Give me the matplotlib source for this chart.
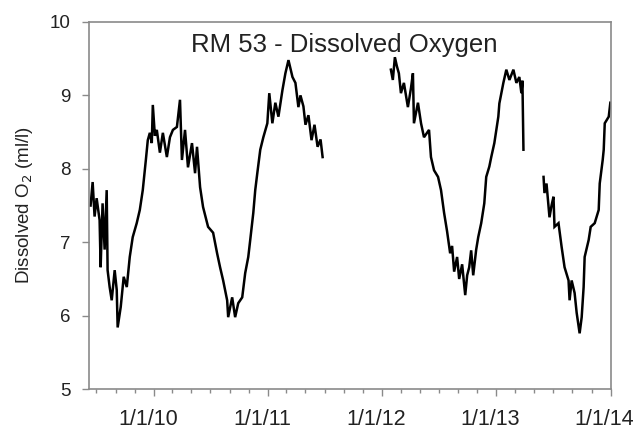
import matplotlib
matplotlib.use("Agg")
import matplotlib.pyplot as plt
import matplotlib.dates as mdates
import matplotlib.transforms as mtransforms
from matplotlib.ticker import FuncFormatter, MultipleLocator
import numpy as np
import pandas as pd

# Dissolved oxygen record at RM 53, three deployments (time as decimal year)
dep1_time = [2009.446, 2009.464, 2009.481, 2009.499, 2009.525, 2009.534, 2009.551,
             2009.569, 2009.587, 2009.595, 2009.613, 2009.631, 2009.657, 2009.675,
             2009.683, 2009.710, 2009.736, 2009.763, 2009.789, 2009.815, 2009.850,
             2009.877, 2009.903, 2009.930, 2009.947, 2009.965, 2009.982, 2009.991,
             2010.009, 2010.026, 2010.053, 2010.079, 2010.114, 2010.141, 2010.167,
             2010.202, 2010.229, 2010.246, 2010.273, 2010.299, 2010.334, 2010.361,
             2010.378, 2010.405, 2010.431, 2010.475, 2010.519, 2010.554, 2010.580,
             2010.607, 2010.642, 2010.651, 2010.686, 2010.712, 2010.739, 2010.774,
             2010.800, 2010.827, 2010.844, 2010.871, 2010.888, 2010.906, 2010.932,
             2010.959, 2010.994, 2011.011, 2011.038, 2011.064, 2011.091, 2011.126,
             2011.152, 2011.179, 2011.214, 2011.240, 2011.266, 2011.284, 2011.310,
             2011.328, 2011.354, 2011.381, 2011.407, 2011.434, 2011.460, 2011.478]
dep1_do = [7.50, 7.82, 7.35, 7.60, 7.30, 6.66, 7.53,
           6.90, 7.71, 6.62, 6.39, 6.21, 6.62, 6.35,
           5.84, 6.12, 6.53, 6.39, 6.80, 7.07, 7.26,
           7.44, 7.71, 8.12, 8.39, 8.49, 8.35, 8.87,
           8.45, 8.53, 8.22, 8.49, 8.16, 8.43, 8.53,
           8.57, 8.94, 8.12, 8.53, 8.02, 8.35, 7.94,
           8.30, 7.75, 7.48, 7.21, 7.13, 6.85, 6.66,
           6.48, 6.21, 5.98, 6.25, 5.98, 6.17, 6.25,
           6.58, 6.80, 7.03, 7.40, 7.71, 7.94, 8.26,
           8.43, 8.62, 9.03, 8.62, 8.90, 8.71, 9.07,
           9.30, 9.48, 9.25, 9.17, 8.84, 9.00, 8.85,
           8.60, 8.73, 8.39, 8.60, 8.30, 8.40, 8.16]

dep2_time = [2012.076, 2012.093, 2012.111, 2012.128, 2012.146, 2012.164, 2012.190,
             2012.225, 2012.252, 2012.269, 2012.278, 2012.313, 2012.340, 2012.366,
             2012.410, 2012.427, 2012.454, 2012.489, 2012.515, 2012.542, 2012.568,
             2012.595, 2012.612, 2012.630, 2012.656, 2012.674, 2012.700, 2012.727,
             2012.744, 2012.762, 2012.779, 2012.797, 2012.823, 2012.841, 2012.867,
             2012.894, 2012.911, 2012.938, 2012.955, 2012.982, 2013.017, 2013.026,
             2013.061, 2013.087, 2013.114, 2013.149, 2013.175, 2013.201, 2013.219,
             2013.228, 2013.237]
dep2_do = [9.35, 9.21, 9.52, 9.40, 9.30, 9.03, 9.17,
           8.84, 9.10, 9.30, 8.62, 8.90, 8.62, 8.43,
           8.53, 8.16, 7.98, 7.89, 7.71, 7.40, 7.15,
           6.85, 6.95, 6.60, 6.80, 6.50, 6.70, 6.28,
           6.55, 6.66, 6.89, 6.55, 6.90, 7.07, 7.26,
           7.53, 7.89, 8.03, 8.16, 8.35, 8.71, 8.89,
           9.17, 9.35, 9.21, 9.35, 9.17, 9.25, 9.03,
           9.20, 8.26]

dep3_time = [2013.413, 2013.421, 2013.439, 2013.465, 2013.483, 2013.500, 2013.509,
             2013.544, 2013.571, 2013.597, 2013.632, 2013.641, 2013.659, 2013.685,
             2013.703, 2013.729, 2013.747, 2013.764, 2013.773, 2013.808, 2013.826,
             2013.861, 2013.896, 2013.905, 2013.931, 2013.940, 2013.949, 2013.984,
             2013.998]
dep3_do = [7.89, 7.67, 7.80, 7.34, 7.50, 7.62, 7.21,
           7.26, 6.94, 6.66, 6.48, 6.21, 6.48, 6.31,
           6.04, 5.76, 5.98, 6.39, 6.80, 7.03, 7.21,
           7.26, 7.44, 7.80, 8.12, 8.26, 8.62, 8.71,
           8.90]


def to_dates(decimal_years):
    t = np.asarray(decimal_years)
    base = pd.Timestamp("2010-01-01")
    return base + pd.to_timedelta((t - 2010.0) * 365.25, unit="D")


def date_label(v, pos):
    d = mdates.num2date(v)
    return f"{d.month}/{d.day}/{d.year % 100:02d}"


plt.rcParams["font.family"] = ["Liberation Sans", "DejaVu Sans"]
fig = plt.figure(figsize=(6.39, 4.30), dpi=100)
ax = fig.add_axes([0.139, 0.095, 0.817, 0.854])

for tt, vv in [(dep1_time, dep1_do), (dep2_time, dep2_do), (dep3_time, dep3_do)]:
    ax.plot(to_dates(tt), vv, color="black", lw=1.8, solid_joinstyle="miter")

ax.set_xlim(pd.Timestamp("2009-06-07"), pd.Timestamp("2014-01-02"))
ax.set_ylim(5, 10)

ax.xaxis.set_major_locator(mdates.YearLocator())
ax.xaxis.set_minor_locator(mdates.MonthLocator(bymonth=[3, 5, 7, 9, 11]))
ax.xaxis.set_major_formatter(FuncFormatter(date_label))
ax.yaxis.set_major_locator(MultipleLocator(1))

for s in ax.spines.values():
    s.set_color("#8a8a8a")
    s.set_linewidth(1.2)

ax.tick_params(axis="x", which="major", direction="out", length=5, width=1.0,
               color="#8a8a8a", labelsize=15.5, pad=9, labelcolor="#222222")
ax.tick_params(axis="x", which="minor", direction="out", length=3, width=1.0,
               color="#8a8a8a")
ax.tick_params(axis="y", which="major", direction="out", length=5, width=1.0,
               color="#8a8a8a", labelsize=13.5, pad=8, labelcolor="#222222")

# date labels sit slightly left of their ticks
shift = mtransforms.ScaledTranslation(-6 / 100, 0, fig.dpi_scale_trans)
for lbl in ax.get_xticklabels():
    lbl.set_transform(lbl.get_transform() + shift)

ax.set_ylabel("Dissolved O$_2$ (ml/l)", fontsize=13.5, color="#222222", labelpad=11)
ax.text(0.49, 0.937, "RM 53 - Dissolved Oxygen", transform=ax.transAxes,
        ha="center", va="center", fontsize=18.5, color="#222222")

fig.savefig("out.png", dpi=100)
